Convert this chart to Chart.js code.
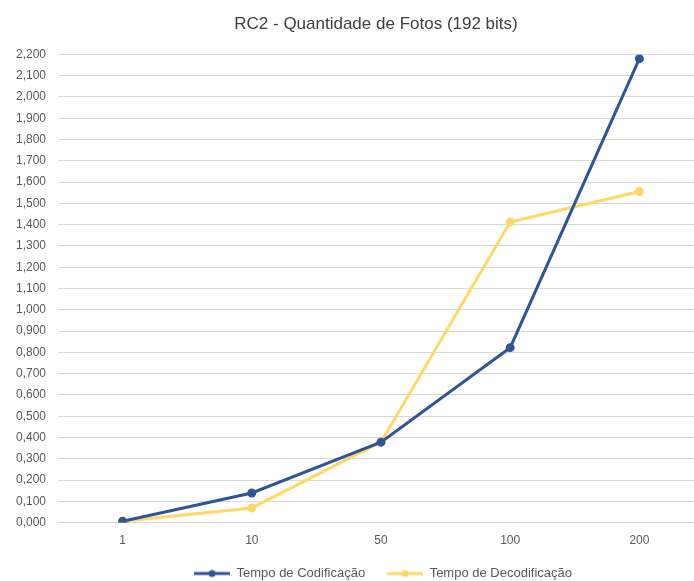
<!DOCTYPE html>
<html lang="pt">
  <head>
    <meta charset="UTF-8" />
    <title>RC2 - Quantidade de Fotos</title>
    <style>
      body {
        margin: 0;
        background: #fff;
        overflow: hidden;
      }
      .chart-container {
        width: 752px;
        height: 590px;
      }
    </style>
  </head>
  <body>
    <div class="chart-container">
      <canvas id="rc2Chart"></canvas>
    </div>
    <script src="https://cdn.jsdelivr.net/npm/chart.js"></script>
    <script>
      const quantidades = ["1", "10", "50", "100", "200"];
      const tempoCodificacao = [0.006, 0.139, 0.378, 0.822, 2.18];
      const tempoDecodificacao = [0.006, 0.069, 0.378, 1.412, 1.556];

      const FONT = "'Liberation Sans', sans-serif";
      const AZUL = "#2f5597";
      const AMARELO = "#ffd966";
      const GAP = 14;

      // legend swatch: blank gap, then a short line with a dot in the middle
      function legendMarker(color) {
        const c = document.createElement("canvas");
        c.width = GAP + 36;
        c.height = 10;
        const ctx = c.getContext("2d");
        ctx.strokeStyle = color;
        ctx.lineWidth = 3;
        ctx.beginPath();
        ctx.moveTo(GAP, 5);
        ctx.lineTo(GAP + 36, 5);
        ctx.stroke();
        ctx.fillStyle = color;
        ctx.beginPath();
        ctx.arc(GAP + 18, 5, 3.5, 0, Math.PI * 2);
        ctx.fill();
        return c;
      }

      new Chart(document.getElementById("rc2Chart"), {
        type: "line",
        data: {
          labels: quantidades,
          datasets: [
            {
              label: "Tempo de Codificação",
              data: tempoCodificacao,
              borderColor: AZUL,
              backgroundColor: AZUL,
              borderWidth: 3,
              pointRadius: 3,
              pointStyle: "circle",
              tension: 0,
            },
            {
              label: "Tempo de Decodificação",
              data: tempoDecodificacao,
              borderColor: AMARELO,
              backgroundColor: AMARELO,
              borderWidth: 3,
              pointRadius: 3,
              pointStyle: "circle",
              tension: 0,
            },
          ],
        },
        options: {
          responsive: true,
          maintainAspectRatio: false,
          animation: false,
          layout: { padding: { top: 10, bottom: 0 } },
          plugins: {
            title: {
              display: true,
              text: "RC2 - Quantidade de Fotos (192 bits)",
              color: "#404040",
              font: { family: FONT, size: 17, weight: "normal" },
              padding: { top: 4, bottom: 20 },
            },
            legend: {
              position: "bottom",
              labels: {
                usePointStyle: true,
                pointStyleWidth: GAP + 36,
                color: "#595959",
                font: { family: FONT, size: 13 },
                padding: 8,
                generateLabels(chart) {
                  return chart.data.datasets.map((ds, i) => ({
                    text: ds.label,
                    fontColor: "#595959",
                    pointStyle: legendMarker(ds.borderColor),
                    datasetIndex: i,
                    lineWidth: 0,
                  }));
                },
              },
            },
            tooltip: { enabled: false },
          },
          scales: {
            x: {
              offset: true,
              grid: { display: false, drawTicks: false },
              border: { display: false },
              ticks: {
                color: "#595959",
                font: { family: FONT, size: 12 },
                padding: 11,
              },
            },
            y: {
              min: 0,
              max: 2.2,
              afterFit(scale) {
                scale.width = 58;
              },
              grid: { color: "#d9d9d9", drawTicks: false },
              border: { display: false },
              ticks: {
                stepSize: 0.1,
                color: "#595959",
                font: { family: FONT, size: 12 },
                padding: 12,
                callback: (v) => v.toFixed(3).replace(".", ","),
              },
            },
            yRight: {
              position: "right",
              grid: { display: false },
              border: { display: false },
              ticks: { display: false },
              afterFit(scale) {
                scale.width = 48;
              },
            },
          },
        },
      });
    </script>
  </body>
</html>
